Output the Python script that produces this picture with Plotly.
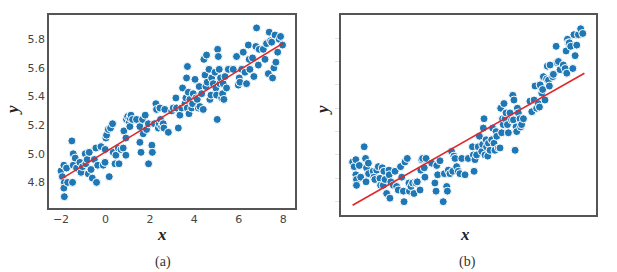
import plotly.graph_objects as go

# ---------------- panel (a) data ----------------
xa = [-2.00, -1.94, -1.87, -1.85, -1.87, -1.85, -1.70, -1.75, -1.48, -1.51, -1.45, -1.45, -1.36, -1.30,
      -1.15, -1.10, -1.03, -0.91, -0.88, -0.82, -0.77, -0.73, -0.65, -0.59, -0.50, -0.43, -0.40, -0.35,
      -0.20, -0.10, -0.02, -0.01, 0.02, 0.05, 0.13, 0.17, 0.23, 0.32, 0.35, 0.43, 0.47, 0.58, 0.61, 0.70,
      0.80, 0.83, 0.92, 0.92, 0.95, 1.00, 1.07, 1.10, 1.10, 1.15, 1.22, 1.40, 1.55, 1.55, 1.60, 1.67,
      1.70, 1.79, 1.85, 1.93, 1.94, 2.09, 2.11, 2.20, 2.27, 2.30, 2.38, 2.42, 2.45, 2.48, 2.53, 2.60,
      2.63, 2.67, 2.83, 2.98, 3.05, 3.17, 3.20, 3.28, 3.35, 3.43, 3.47, 3.58, 3.62, 3.65, 3.68, 3.69,
      3.73, 3.76, 3.80, 3.88, 3.92, 3.95, 4.03, 4.07, 4.13, 4.18, 4.22, 4.25, 4.33, 4.40, 4.43, 4.48,
      4.52, 4.55, 4.58, 4.66, 4.70, 4.75, 4.78, 4.85, 4.93, 4.97, 5.00, 5.03, 5.05, 5.08, 5.12, 5.15,
      5.18, 5.23, 5.27, 5.30, 5.33, 5.38, 5.45, 5.53, 5.75, 5.90, 5.98, 6.02, 6.05, 6.13, 6.20, 6.28,
      6.35, 6.43, 6.47, 6.50, 6.62, 6.68, 6.77, 6.80, 6.88, 6.92, 7.10, 7.18, 7.25, 7.33, 7.37, 7.43,
      7.48, 7.52, 7.58, 7.63, 7.67, 7.75, 7.82, 7.88, 7.97]
ya = [4.88, 4.84, 4.92, 4.80, 4.76, 4.70, 4.80, 4.90, 4.80, 5.09, 5.00, 4.92, 4.97, 4.90,
      4.94, 4.87, 4.91, 5.00, 4.93, 4.96, 4.86, 5.01, 4.89, 4.83, 4.96, 5.04, 4.80, 4.92,
      5.05, 4.92, 4.94, 5.03, 5.11, 5.13, 5.17, 4.84, 5.18, 5.21, 5.01, 4.93, 4.99, 5.04, 4.93, 5.03,
      5.04, 5.16, 4.99, 5.11, 5.24, 5.26, 5.22, 5.25, 5.19, 5.27, 5.24, 5.24, 5.19, 5.08, 5.01, 5.24,
      5.14, 5.27, 5.17, 5.21, 4.93, 5.06, 5.01, 5.21, 5.35, 5.31, 5.18, 5.21, 5.32, 5.24, 5.19, 5.21,
      5.18, 5.31, 5.15, 5.30, 5.32, 5.39, 5.32, 5.18, 5.27, 5.32, 5.46, 5.35, 5.39, 5.53, 5.32, 5.61,
      5.43, 5.28, 5.38, 5.32, 5.35, 5.42, 5.52, 5.39, 5.38, 5.32, 5.47, 5.33, 5.42, 5.31, 5.66, 5.55,
      5.47, 5.69, 5.50, 5.59, 5.38, 5.41, 5.53, 5.49, 5.57, 5.46, 5.41, 5.24, 5.73, 5.68, 5.59, 5.49,
      5.53, 5.39, 5.42, 5.49, 5.38, 5.54, 5.46, 5.59, 5.59, 5.68, 5.48, 5.53, 5.50, 5.59, 5.71, 5.57,
      5.49, 5.76, 5.66, 5.59, 5.67, 5.54, 5.75, 5.88, 5.62, 5.73, 5.73, 5.66, 5.77, 5.56, 5.85, 5.79,
      5.78, 5.53, 5.60, 5.83, 5.64, 5.71, 5.80, 5.82, 5.76]
fit_a = [5.013, 0.095]          # intercept, slope
fit_x = [-2, 8]

# ---------------- panel (b) data ----------------
xb = [-2.00, -1.93, -1.86, -1.86, -1.83, -1.83, -1.71, -1.65, -1.50, -1.44, -1.42, -1.40, -1.32, -1.31,
      -1.11, -1.08, -1.04, -0.96, -0.89, -0.82, -0.79, -0.72, -0.68, -0.65, -0.60, -0.53, -0.43, -0.42,
      -0.39, -0.35, -0.24, -0.17, -0.10, -0.03, 0.07, 0.12, 0.19, 0.22, 0.26, 0.36, 0.43, 0.45, 0.52,
      0.59, 0.65, 0.73, 0.79, 0.91, 0.94, 0.98, 1.02, 1.09, 1.12, 1.17, 1.41, 1.55, 1.60, 1.63, 1.67,
      1.77, 1.91, 1.96, 2.06, 2.09, 2.13, 2.20, 2.27, 2.32, 2.37, 2.42, 2.49, 2.56, 2.63, 2.71, 2.85,
      2.99, 3.17, 3.21, 3.24, 3.28, 3.35, 3.42, 3.47, 3.57, 3.61, 3.64, 3.67, 3.71, 3.76, 3.78, 3.83,
      3.86, 3.93, 4.00, 4.04, 4.10, 4.14, 4.19, 4.22, 4.29, 4.36, 4.39, 4.43, 4.47, 4.50, 4.53, 4.58,
      4.62, 4.68, 4.72, 4.79, 4.86, 4.91, 4.94, 4.96, 5.01, 5.05, 5.08, 5.11, 5.15, 5.22, 5.25, 5.29,
      5.37, 5.65, 5.73, 5.83, 5.87, 5.94, 6.01, 6.06, 6.09, 6.16, 6.20, 6.23, 6.30, 6.37, 6.40, 6.45,
      6.49, 6.52, 6.63, 6.66, 6.78, 6.83, 6.88, 6.95, 7.09, 7.17, 7.21, 7.24, 7.27, 7.31, 7.35, 7.41,
      7.50, 7.55, 7.60, 7.67, 7.74, 7.84, 7.93]
yb = [5.34, 5.30, 5.36, 5.23, 5.19, 5.14, 5.31, 5.21, 5.47, 5.37, 5.17, 5.29, 5.33, 5.24,
      5.26, 5.21, 5.19, 5.27, 5.30, 5.20, 5.14, 5.29, 5.14, 5.26, 5.19, 5.07, 5.27, 5.23,
      5.03, 5.17, 5.14, 5.26, 5.13, 5.10, 5.30, 5.21, 5.09, 5.00, 5.34, 5.37, 5.16, 5.09, 5.13,
      5.16, 5.07, 5.16, 5.17, 5.10, 5.27, 5.36, 5.37, 5.29, 5.21, 5.37, 5.33, 5.16, 5.09, 5.31, 5.23,
      5.35, 5.00, 5.24, 5.13, 5.09, 5.27, 5.24, 5.43, 5.26, 5.39, 5.37, 5.30, 5.26, 5.24, 5.37, 5.23,
      5.37, 5.47, 5.40, 5.26, 5.36, 5.40, 5.47, 5.56, 5.43, 5.49, 5.63, 5.71, 5.40, 5.53, 5.47, 5.39,
      5.50, 5.44, 5.53, 5.63, 5.50, 5.44, 5.60, 5.56, 5.46, 5.46, 5.80, 5.59, 5.71, 5.66, 5.84, 5.71,
      5.76, 5.66, 5.59, 5.76, 5.70, 5.91, 5.70, 5.87, 5.44, 5.64, 5.60, 5.80, 5.76, 5.71, 5.64, 5.66,
      5.71, 5.86, 5.77, 5.87, 5.99, 5.80, 5.84, 5.81, 6.00, 5.93, 5.96, 6.07, 5.87, 6.05, 6.16, 6.04,
      5.99, 6.17, 6.07, 6.09, 6.33, 6.19, 6.20, 6.13, 6.17, 6.14, 6.29, 6.10, 6.39, 6.36, 6.36, 6.33,
      6.14, 6.43, 6.25, 6.34, 6.43, 6.48, 6.44]
fit_b = [5.196, 0.113]
yb_ticks = [5.0, 5.2, 5.4, 5.6, 5.8, 6.0, 6.2, 6.4]

a_x_ticks = [-2, 0, 2, 4, 6, 8]
a_y_ticks = [4.8, 5.0, 5.2, 5.4, 5.6, 5.8]

W, H = 617, 272
BLUE = "#1f77b4"
RED = "#e0262a"

fig = go.Figure()
mk = dict(color=BLUE, size=8, line=dict(color="white", width=1))
fig.add_trace(go.Scatter(x=xa, y=ya, mode="markers", marker=mk, xaxis="x", yaxis="y", showlegend=False))
fig.add_trace(go.Scatter(x=fit_x, y=[fit_a[0] + fit_a[1] * v for v in fit_x], mode="lines",
                         line=dict(color=RED, width=1.6), xaxis="x", yaxis="y", showlegend=False))
fig.add_trace(go.Scatter(x=xb, y=yb, mode="markers", marker=mk, xaxis="x2", yaxis="y2", showlegend=False))
fig.add_trace(go.Scatter(x=fit_x, y=[fit_b[0] + fit_b[1] * v for v in fit_x], mode="lines",
                         line=dict(color=RED, width=1.6), xaxis="x2", yaxis="y2", showlegend=False))

def px(v): return v / W
def py(v): return 1 - v / H

frame = dict(showline=True, linecolor="#555555", linewidth=1.6, mirror=True, showgrid=False,
             zeroline=False)
tickfont = dict(family="DejaVu Sans", size=11, color="#444444")

fig.update_layout(
    width=W, height=H, margin=dict(l=0, r=0, t=0, b=0),
    paper_bgcolor="white", plot_bgcolor="white",
    xaxis=dict(domain=[px(49), px(295)], range=[-2.54, 8.53], tickvals=a_x_ticks,
               ticks="", tickfont=tickfont, anchor="y", **frame),
    yaxis=dict(domain=[py(208), py(15)], range=[4.621, 5.970], tickvals=a_y_ticks,
               tickformat=".1f", ticks="", tickfont=tickfont, anchor="x", **frame),
    xaxis2=dict(domain=[px(341), px(596)], range=[-2.5, 8.5], showticklabels=False,
                ticks="", anchor="y2", **frame),
    yaxis2=dict(domain=[py(215), py(15)], range=[4.886, 6.598], tickvals=yb_ticks,
                showticklabels=False, ticks="outside", ticklen=4, tickcolor="#e4e4e4",
                anchor="x2", **frame),
)

lab = dict(family="Liberation Serif", size=17, color="#222222")
cap = dict(family="Liberation Serif", size=14, color="#333333")
def ann(text, x, y, font, angle=0):
    fig.add_annotation(text=text, x=px(x), y=py(y), xref="paper", yref="paper",
                       xanchor="center", yanchor="middle", showarrow=False, font=font,
                       textangle=angle)

ann("<b><i>x</i></b>", 162, 234, lab)
ann("<b><i>x</i></b>", 465, 234, lab)
ann("<b><i>y</i></b>", 12, 110, lab, -90)
ann("<b><i>y</i></b>", 322, 110, lab, -90)
ann("(a)", 163, 262, cap)
ann("(b)", 467, 262, cap)

fig.write_html("out.html")
